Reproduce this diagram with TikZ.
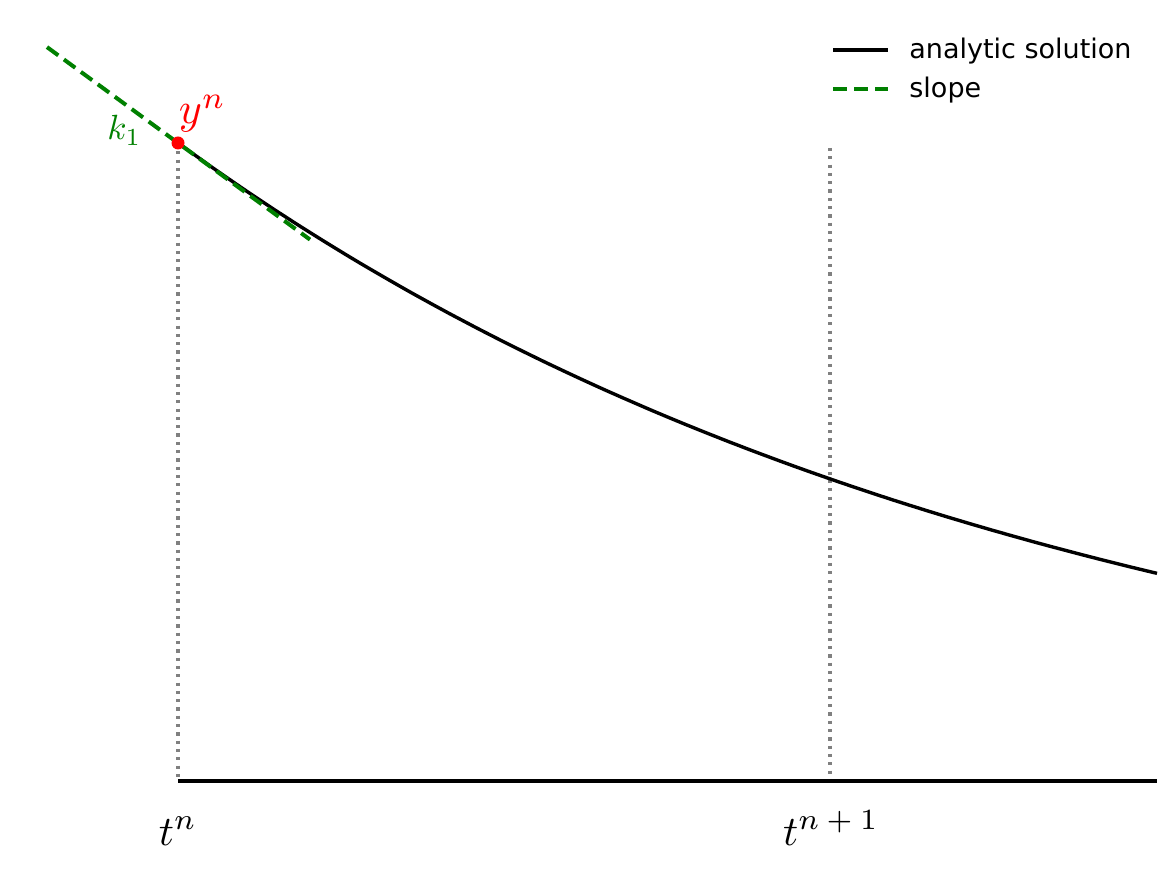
\documentclass[tikz,border=0pt]{standalone}
\usepackage{fontspec}
\newfontfamily\legendfont{DejaVu Sans}
\definecolor{slopegreen}{RGB}{0,128,0}
\begin{document}
\begin{tikzpicture}[x=0.5pt,y=-0.5pt,
    curve/.style={black,line width=1.7pt},
    slopeline/.style={slopegreen,line width=2pt,dash pattern=on 7pt off 3.5pt},
    guide/.style={gray,line width=1.6pt,dash pattern=on 1.6pt off 2.55pt},
    mathlabel/.style={inner sep=0pt,font=\normalsize},
    legendtext/.style={anchor=base west,inner sep=0pt,font=\legendfont\fontsize{13.5}{16}\selectfont}]
    \useasboundingbox (0,0) rectangle (1171,870);
    % points on the time axis and the curve
    \coordinate (yn) at (178,143);
    \coordinate (tn) at (178,781);
    \coordinate (tnext) at (830,781);
    \coordinate (tnexttop) at (830,148);
    \coordinate (axisend) at (1157,781);
    \coordinate (slopestart) at (47,47.1);
    \coordinate (slopeend) at (310,239.6);
    % guides and axis
    \draw[guide] (yn)--(tn);
    \draw[guide] (tnexttop)--(tnext);
    \draw[curve] (tn)--(axisend);
    % analytic solution and slope
    \draw[curve] plot[domain=178:1157,samples=120] (\x,{781-638*exp(-(\x-178)/872)});
    \draw[slopeline] (slopestart)--(slopeend);
    \fill[red] (yn) circle (3.25pt);
    % labels
    \node[mathlabel,anchor=base west,red,scale=2.2] (ynlabel) at (178,124) {$y^n$};
    \node[mathlabel,anchor=base east,slopegreen,scale=1.75] (klabel) at (142,140) {$k_1$};
    \node[mathlabel,anchor=base,scale=2.1] (tnlabel) at (178,845) {$t^n$};
    \node[mathlabel,anchor=base,scale=2.1] (tnextlabel) at (831,845) {$t^{n\:+\:1}$};
    % legend
    \coordinate (lega) at (833,50);
    \coordinate (legb) at (888,50);
    \coordinate (legc) at (833,89);
    \coordinate (legd) at (888,89);
    \draw[curve] (lega)--(legb);
    \draw[slopeline] (legc)--(legd);
    \node[legendtext] (analyticlabel) at (909,59) {analytic solution};
    \node[legendtext] (slopelabel) at (909,98) {slope};
\end{tikzpicture}
\end{document}
